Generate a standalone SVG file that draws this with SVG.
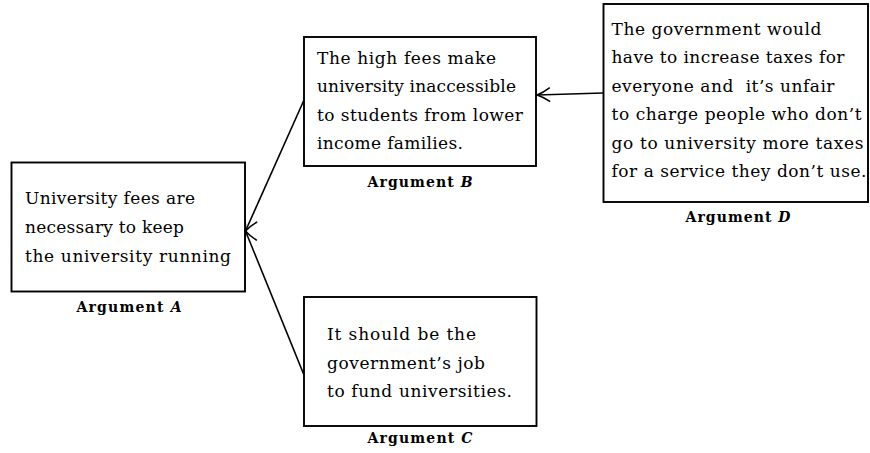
<svg xmlns="http://www.w3.org/2000/svg" width="870" height="453" viewBox="0 0 870 453">
<style>
.box{fill:#fff;stroke:#000;stroke-width:1.9}
.t{font-family:"DejaVu Serif","Liberation Serif",serif;font-size:17px;fill:#000}
.lab{font-family:"DejaVu Serif","Liberation Serif",serif;font-size:14px;font-weight:bold;fill:#000;text-anchor:middle}
.lab tspan{font-style:italic}
.edge{fill:none;stroke:#000;stroke-width:1.6;marker-end:url(#arr)}
</style>
<defs>
<marker id="arr" markerWidth="18" markerHeight="18" refX="14" refY="9" orient="auto" markerUnits="userSpaceOnUse">
<path d="M1,2 Q8,7 14,9 Q8,11 1,16" fill="none" stroke="#000" stroke-width="1.5"/>
</marker>
</defs>
<rect width="870" height="453" fill="#fff"/>
<g id="connectors">
<line class="edge" x1="304" y1="100" x2="245.5" y2="231"/>
<line class="edge" x1="304" y1="375" x2="245.5" y2="231"/>
<line class="edge" x1="603" y1="93" x2="537" y2="95"/>
</g>
<g id="argA">
<rect class="box" x="11.5" y="162.5" width="233.5" height="129"/>
<text class="t" x="25" y="204" textLength="170">University fees are</text>
<text class="t" x="25" y="233" textLength="159">necessary to keep</text>
<text class="t" x="25" y="261.5" textLength="206">the university running</text>
<text class="lab" x="129" y="312" textLength="105">Argument <tspan>A</tspan></text>
</g>
<g id="argB">
<rect class="box" x="304" y="37" width="232" height="129"/>
<text class="t" x="317" y="63.5" textLength="179">The high fees make</text>
<text class="t" x="317" y="92" textLength="199">university inaccessible</text>
<text class="t" x="317" y="120.5" textLength="206">to students from lower</text>
<text class="t" x="317" y="149" textLength="146">income families.</text>
<text class="lab" x="420" y="187" textLength="105">Argument <tspan>B</tspan></text>
</g>
<g id="argD">
<rect class="box" x="603.5" y="4" width="264.5" height="198"/>
<text class="t" x="611.5" y="34.5" textLength="210">The government would</text>
<text class="t" x="611.5" y="63" textLength="233">have to increase taxes for</text>
<text class="t" x="611.5" y="91.5" textLength="223" xml:space="preserve">everyone and  it’s unfair</text>
<text class="t" x="611.5" y="120" textLength="250">to charge people who don’t</text>
<text class="t" x="611.5" y="148.5" textLength="252">go to university more taxes</text>
<text class="t" x="611.5" y="177" textLength="255">for a service they don’t use.</text>
<text class="lab" x="738" y="222" textLength="105">Argument <tspan>D</tspan></text>
</g>
<g id="argC">
<rect class="box" x="304" y="297" width="232.5" height="129"/>
<text class="t" x="327" y="340" textLength="149">It should be the</text>
<text class="t" x="327" y="368.5" textLength="158">government’s job</text>
<text class="t" x="327" y="397" textLength="185">to fund universities.</text>
<text class="lab" x="420" y="443" textLength="105">Argument <tspan>C</tspan></text>
</g>
</svg>
